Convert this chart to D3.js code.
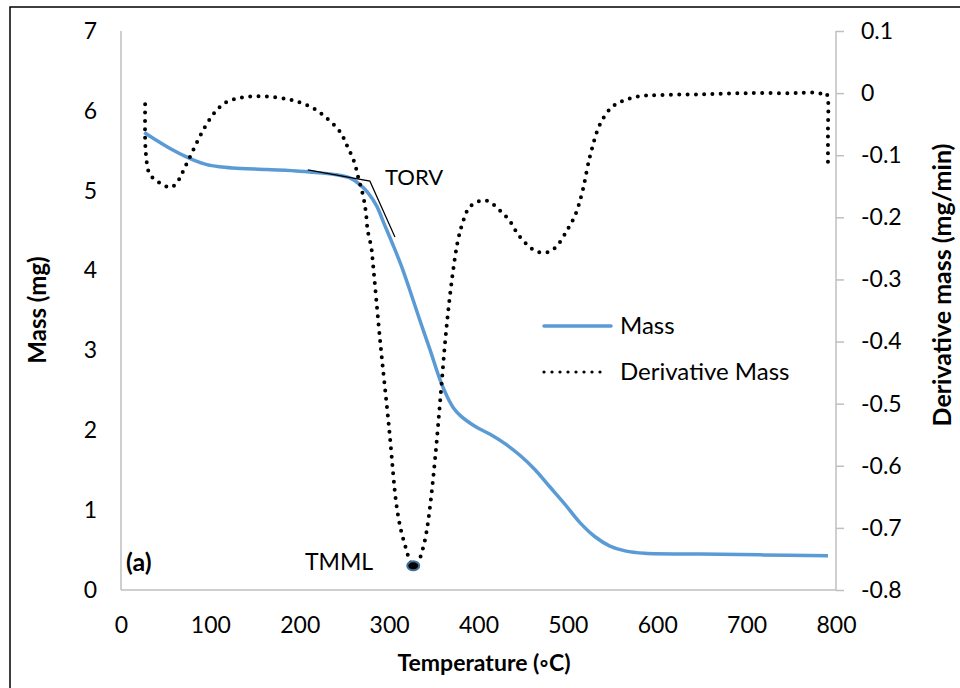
<!DOCTYPE html>
<html>
<head>
<meta charset="utf-8">
<script src="https://cdn.jsdelivr.net/npm/d3@7"></script>
<style>
  body { margin: 0; background: #fff; }
  svg text { font-family: Lato, "Open Sans", sans-serif; fill: #000; }
</style>
</head>
<body>
<div id="chart"></div>
<script>
// mass curve (left axis)
var massT = [26, 40, 58, 72, 82, 95, 110, 125, 163, 200, 215, 241, 256, 267, 276, 286, 295, 304, 314, 323, 334, 346, 357, 365, 372, 380, 396, 413, 430, 446, 463, 480, 497, 513, 530, 547, 564, 586, 648, 715, 791];
var massV = [5.73, 5.63, 5.51, 5.43, 5.38, 5.33, 5.30, 5.285, 5.265, 5.245, 5.23, 5.20, 5.16, 5.08, 4.98, 4.81, 4.57, 4.33, 4.05, 3.76, 3.39, 3.00, 2.63, 2.42, 2.28, 2.18, 2.05, 1.95, 1.83, 1.69, 1.51, 1.29, 1.07, 0.85, 0.67, 0.55, 0.49, 0.46, 0.45, 0.44, 0.43];

// derivative mass curve (right axis)
var derivT = [27, 27, 28, 31, 36, 45, 56, 64, 70, 78, 86, 95, 105, 117, 132, 150, 169, 187, 200, 215, 230, 245, 253, 261, 266, 271, 274, 276, 280, 282, 290, 300, 308, 313, 318, 322, 327, 333, 338, 342, 346, 352, 358, 364, 371, 377, 382, 389, 396, 403, 411, 424, 435, 444, 455, 465, 475, 483, 490, 499, 508, 516, 525, 536, 549, 564, 581, 603, 650, 700, 750, 775, 786, 789, 791, 791, 791];
var derivV = [-0.018, -0.074, -0.100, -0.127, -0.137, -0.146, -0.152, -0.141, -0.124, -0.100, -0.076, -0.052, -0.031, -0.015, -0.008, -0.005, -0.006, -0.010, -0.015, -0.024, -0.040, -0.062, -0.085, -0.111, -0.139, -0.166, -0.192, -0.221, -0.248, -0.276, -0.40, -0.54, -0.661, -0.702, -0.729, -0.748, -0.761, -0.753, -0.732, -0.705, -0.663, -0.58, -0.48, -0.38, -0.292, -0.237, -0.210, -0.185, -0.177, -0.173, -0.174, -0.189, -0.206, -0.227, -0.245, -0.255, -0.257, -0.252, -0.242, -0.221, -0.197, -0.16, -0.10, -0.05, -0.023, -0.011, -0.005, -0.003, -0.002, 0.000, 0.000, 0.001, -0.001, 0.000, -0.010, -0.060, -0.111];

var xTicks = [0, 100, 200, 300, 400, 500, 600, 700, 800];
var leftTicks = [0, 1, 2, 3, 4, 5, 6, 7];
var rightTicks = [-0.8, -0.7, -0.6, -0.5, -0.4, -0.3, -0.2, -0.1, 0, 0.1];

// TORV tangent construction and TMML point
var torvT = [209, 278.5, 306.5];
var torvV = [5.26, 5.12, 4.42];
var tmml = {t: 327, v: -0.761};

var W = 960, H = 688;
var svg = d3.select('#chart').append('svg')
  .attr('width', W).attr('height', H);

// frame
svg.append('rect')
  .attr('x', 10).attr('y', 7)
  .attr('width', W).attr('height', H)
  .style('fill', 'none').style('stroke', '#000').style('stroke-width', 1.5);

var x = d3.scaleLinear().domain([0, 800]).range([121, 836]);
var yL = d3.scaleLinear().domain([0, 7]).range([590, 31]);
var yR = d3.scaleLinear().domain([-0.8, 0.1]).range([590, 31]);

var axisColor = '#bfbfbf';
var tickFont = '23px';

// axes lines
svg.append('line').attr('x1', 121).attr('x2', 121).attr('y1', yL(7)).attr('y2', yL(0))
  .style('stroke', axisColor).style('stroke-width', 1.5);
svg.append('line').attr('x1', x(0)).attr('x2', x(800)).attr('y1', yL(0)).attr('y2', yL(0))
  .style('stroke', axisColor).style('stroke-width', 1.5);

var rAxis = svg.append('g').attr('transform', 'translate(' + x(800) + ',0)')
  .call(d3.axisRight(yR).tickValues(rightTicks).tickSize(8).tickPadding(17)
    .tickFormat(function(d){ return d3.format('.1~f')(d).replace('\u2212', '-'); }));
rAxis.selectAll('path, line').style('stroke', axisColor).style('stroke-width', 1.5);
rAxis.select('.domain').attr('d', 'M0,' + yR(0.1) + 'V' + yR(-0.8));
rAxis.selectAll('text').style('font-size', tickFont).style('font-family', 'Lato, sans-serif');

var lAxis = svg.append('g').attr('transform', 'translate(' + x(0) + ',0)')
  .call(d3.axisLeft(yL).tickValues(leftTicks).tickSize(0).tickPadding(24)
    .tickFormat(d3.format('d')));
lAxis.select('.domain').remove();
lAxis.selectAll('text').style('font-size', tickFont).style('font-family', 'Lato, sans-serif');

var bAxis = svg.append('g').attr('transform', 'translate(0,' + yL(0) + ')')
  .call(d3.axisBottom(x).tickValues(xTicks).tickSize(0).tickPadding(27));
bAxis.select('.domain').remove();
bAxis.selectAll('text').style('font-size', tickFont).style('font-family', 'Lato, sans-serif');

// axis titles
svg.append('text').attr('x', 484).attr('y', 671).attr('text-anchor', 'middle')
  .style('font-size', '23px').style('font-weight', 'bold').text('Temperature (◦C)');
svg.append('text').attr('transform', 'translate(46,310) rotate(-90)').attr('text-anchor', 'middle')
  .style('font-size', '24px').style('font-weight', 'bold').text('Mass (mg)');
svg.append('text').attr('transform', 'translate(951,285) rotate(-90)').attr('text-anchor', 'middle')
  .style('font-size', '25px').style('font-weight', 'bold').text('Derivative mass (mg/min)');

// curves
var massLine = d3.line()
  .x(function(d, i){ return x(massT[i]); })
  .y(function(d){ return yL(d); })
  .curve(d3.curveCatmullRom.alpha(0.5));
svg.append('path').attr('d', massLine(massV))
  .style('fill', 'none').style('stroke', '#5b9bd5').style('stroke-width', 3.5);

var derivLine = d3.line()
  .x(function(d, i){ return x(derivT[i]); })
  .y(function(d){ return yR(d); })
  .curve(d3.curveCatmullRom.alpha(0.5));
svg.append('path').attr('d', derivLine(derivV))
  .style('fill', 'none').style('stroke', '#000').style('stroke-width', 4)
  .style('stroke-linecap', 'round').style('stroke-dasharray', '0 8.3');

// TORV tangent lines
var tanLine = d3.line()
  .x(function(d, i){ return x(torvT[i]); })
  .y(function(d){ return yL(d); });
svg.append('path').attr('d', tanLine(torvV))
  .style('fill', 'none').style('stroke', '#000').style('stroke-width', 1.2);
svg.append('text').attr('x', 385).attr('y', 185).style('font-size', '22px').text('TORV');

// TMML point
svg.append('ellipse').attr('cx', x(tmml.t)).attr('cy', yR(tmml.v)).attr('rx', 6).attr('ry', 4.5)
  .style('fill', '#000').style('stroke', '#41719c').style('stroke-width', 2);
svg.append('text').attr('x', 305).attr('y', 570).style('font-size', '23px').text('TMML');

svg.append('text').attr('x', 126).attr('y', 571).style('font-size', '25px').style('font-weight', 'bold').text('(a)');

// legend
var lg = svg.append('g');
lg.append('line').attr('x1', 544).attr('x2', 611).attr('y1', 326).attr('y2', 326)
  .style('stroke', '#5b9bd5').style('stroke-width', 3.5).style('stroke-linecap', 'round');
lg.append('text').attr('x', 620).attr('y', 334).style('font-size', '24px').text('Mass');
lg.append('line').attr('x1', 544).attr('x2', 607).attr('y1', 372).attr('y2', 372)
  .style('stroke', '#000').style('stroke-width', 3.2).style('stroke-linecap', 'round')
  .style('stroke-dasharray', '0 8');
lg.append('text').attr('x', 620).attr('y', 380).style('font-size', '24px').text('Derivative Mass');
</script>
</body>
</html>
